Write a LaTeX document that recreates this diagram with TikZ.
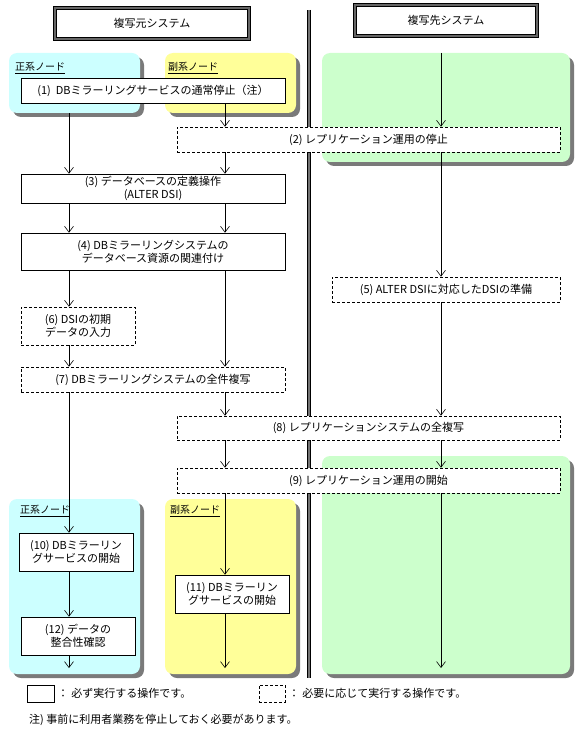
\documentclass[tikz,border=0pt]{standalone}
\usepackage{fontspec}
\setmainfont{Noto Sans CJK JP}
\usetikzlibrary{arrows.meta,positioning}

\definecolor{pricol}{HTML}{CCFFFF}
\definecolor{seccol}{HTML}{FFFF99}
\definecolor{dstcol}{HTML}{CCFFCC}
\definecolor{shadecol}{HTML}{7A7A7A}

\tikzset{
	opbox/.style={draw, fill=white, line width=0.6pt, inner sep=1pt, align=center, font=\fontsize{11}{13}\selectfont},
	optbox/.style={opbox, dash pattern=on 3pt off 2pt},
	regionbox/.style={rounded corners=8pt, inner sep=0pt},
	shadebox/.style={regionbox, fill=shadecol},
	titlebox/.style={draw, line width=0.8pt, double=black!60, double distance=1.6pt, fill=white, font=\fontsize{11}{13}\selectfont},
	nodelabel/.style={anchor=west, inner sep=0pt, font=\fontsize{10}{12}\selectfont},
	legendtext/.style={inner sep=0pt, font=\fontsize{11}{13}\selectfont},
	flow/.style={line width=0.6pt, -{Straight Barb[length=6pt,width=9pt]}},
}

\begin{document}
\begin{tikzpicture}[x=1pt,y=-1pt]
	\useasboundingbox (0,0) rectangle (586,730);
	\node[titlebox, minimum width=194pt, minimum height=31pt] (srcTitle) at (152,23.5) {複写元システム};
	\node[titlebox, minimum width=182pt, minimum height=31pt] (dstTitle) at (446,20.5) {複写先システム};
	\coordinate (sepTop) at (309,10);
	\coordinate (sepBot) at (309,678);
	\draw[line width=0.7pt, double=black!55, double distance=2.2pt] (sepTop) -- (sepBot);

	\fill[shadecol, rounded corners=8pt] (13,57) rectangle (144,117);
	\fill[shadecol, rounded corners=8pt] (169,57) rectangle (300,117);
	\fill[shadecol, rounded corners=8pt] (326,57) rectangle (574,166);
	\fill[shadecol, rounded corners=8pt] (13,503) rectangle (144,678);
	\fill[shadecol, rounded corners=8pt] (169,503) rectangle (300,678);
	\fill[shadecol, rounded corners=8pt] (326,460) rectangle (574,678);
	\node[regionbox, fill=pricol, minimum width=131pt, minimum height=60pt] (priTop) at (74.5,83) {};
	\node[regionbox, fill=seccol, minimum width=131pt, minimum height=60pt] (secTop) at (230.5,83) {};
	\node[regionbox, fill=dstcol, minimum width=248pt, minimum height=109pt] (dstTop) at (446,107.5) {};
	\node[regionbox, fill=pricol, minimum width=131pt, minimum height=175pt] (priBot) at (74.5,586.5) {};
	\node[regionbox, fill=seccol, minimum width=131pt, minimum height=175pt] (secBot) at (230.5,586.5) {};
	\node[regionbox, fill=dstcol, minimum width=248pt, minimum height=218pt] (dstBot) at (446,565) {};
	\node[nodelabel] (priTopLabel) at (15,68) {\underline{正系ノード}};
	\node[nodelabel] (secTopLabel) at (168,68) {\underline{副系ノード}};
	\node[nodelabel] (priBotLabel) at (20,511) {\underline{正系ノード}};
	\node[nodelabel] (secBotLabel) at (170,511) {\underline{副系ノード}};

	\node[opbox, minimum width=264pt, minimum height=25pt] (op1) at (153,90.5) {(1)\ \ DBミラーリングサービスの通常停止（注）};
	\node[optbox, minimum width=383pt, minimum height=25pt] (op2) at (368.5,139.5) {(2) レプリケーション運用の停止};
	\node[opbox, minimum width=264pt, minimum height=29pt] (op3) at (153,188.5) {(3) データベースの定義操作\\(ALTER DSI)};
	\node[opbox, minimum width=264pt, minimum height=37pt] (op4) at (153,251.5) {(4) DBミラーリングシステムの\\データベース資源の関連付け};
	\node[optbox, minimum width=228pt, minimum height=25pt] (op5) at (446,289.5) {(5) ALTER DSIに対応したDSIの準備};
	\node[optbox, minimum width=114pt, minimum height=38pt] (op6) at (78,326) {(6) DSIの初期\\データの入力};
	\node[optbox, minimum width=264pt, minimum height=25pt] (op7) at (153,379.5) {(7) DBミラーリングシステムの全件複写};
	\node[optbox, minimum width=383pt, minimum height=24pt] (op8) at (368.5,428) {(8) レプリケーションシステムの全複写};
	\node[optbox, minimum width=383pt, minimum height=25pt] (op9) at (368.5,480.5) {(9) レプリケーション運用の開始};
	\node[opbox, minimum width=114pt, minimum height=38pt] (op10) at (76,552) {(10) DBミラーリン\\グサービスの開始};
	\node[opbox, minimum width=114pt, minimum height=38pt] (op11) at (232,594) {(11) DBミラーリン\\グサービスの開始};
	\node[opbox, minimum width=114pt, minimum height=38pt] (op12) at (78,636) {(12) データの\\整合性確認};

	\coordinate (colL) at (69,0);
	\coordinate (colM) at (225,0);
	\coordinate (colR) at (441,0);
	\coordinate (endL) at (69,668);
	\coordinate (endM) at (225,668);
	\coordinate (endR) at (441,668);

	\draw[flow] (priTop.south -| colL) -- (op3.north -| colL);
	\draw[flow] (op3.south -| colL) -- (op4.north -| colL);
	\draw[flow] (op4.south -| colL) -- (op6.north -| colL);
	\draw[flow] (op6.south -| colL) -- (op7.north -| colL);
	\draw[flow] (op7.south -| colL) -- (op10.north -| colL);
	\draw[flow] (op10.south -| colL) -- (op12.north -| colL);
	\draw[flow] (op12.south -| colL) -- (endL);

	\draw[flow] (op1.south -| colM) -- (op2.north -| colM);
	\draw[flow] (op2.south -| colM) -- (op3.north -| colM);
	\draw[flow] (op3.south -| colM) -- (op4.north -| colM);
	\draw[flow] (op4.south -| colM) -- (op7.north -| colM);
	\draw[flow] (op7.south -| colM) -- (op8.north -| colM);
	\draw[flow] (op8.south -| colM) -- (op9.north -| colM);
	\draw[flow] (op9.south -| colM) -- (op11.north -| colM);
	\draw[flow] (op11.south -| colM) -- (endM);

	\draw[flow] (dstTop.north -| colR) -- (op2.north -| colR);
	\draw[flow] (op2.south -| colR) -- (op5.north -| colR);
	\draw[flow] (op5.south -| colR) -- (op8.north -| colR);
	\draw[flow] (op8.south -| colR) -- (op9.north -| colR);
	\draw[flow] (op9.south -| colR) -- (endR);

	\node[opbox, minimum width=27pt, minimum height=17pt] (legMust) at (40.5,693.5) {};
	\node[legendtext, anchor=west, right=3pt of legMust] (legMustText) {：\hspace{3pt}必ず実行する操作です。};
	\node[optbox, minimum width=26pt, minimum height=17pt] (legOpt) at (272,693.5) {};
	\node[legendtext, anchor=west, right=3pt of legOpt] (legOptText) {：\hspace{3pt}必要に応じて実行する操作です。};
	\node[legendtext, anchor=west] (note) at (29,720) {注) 事前に利用者業務を停止しておく必要があります。};
\end{tikzpicture}
\end{document}
